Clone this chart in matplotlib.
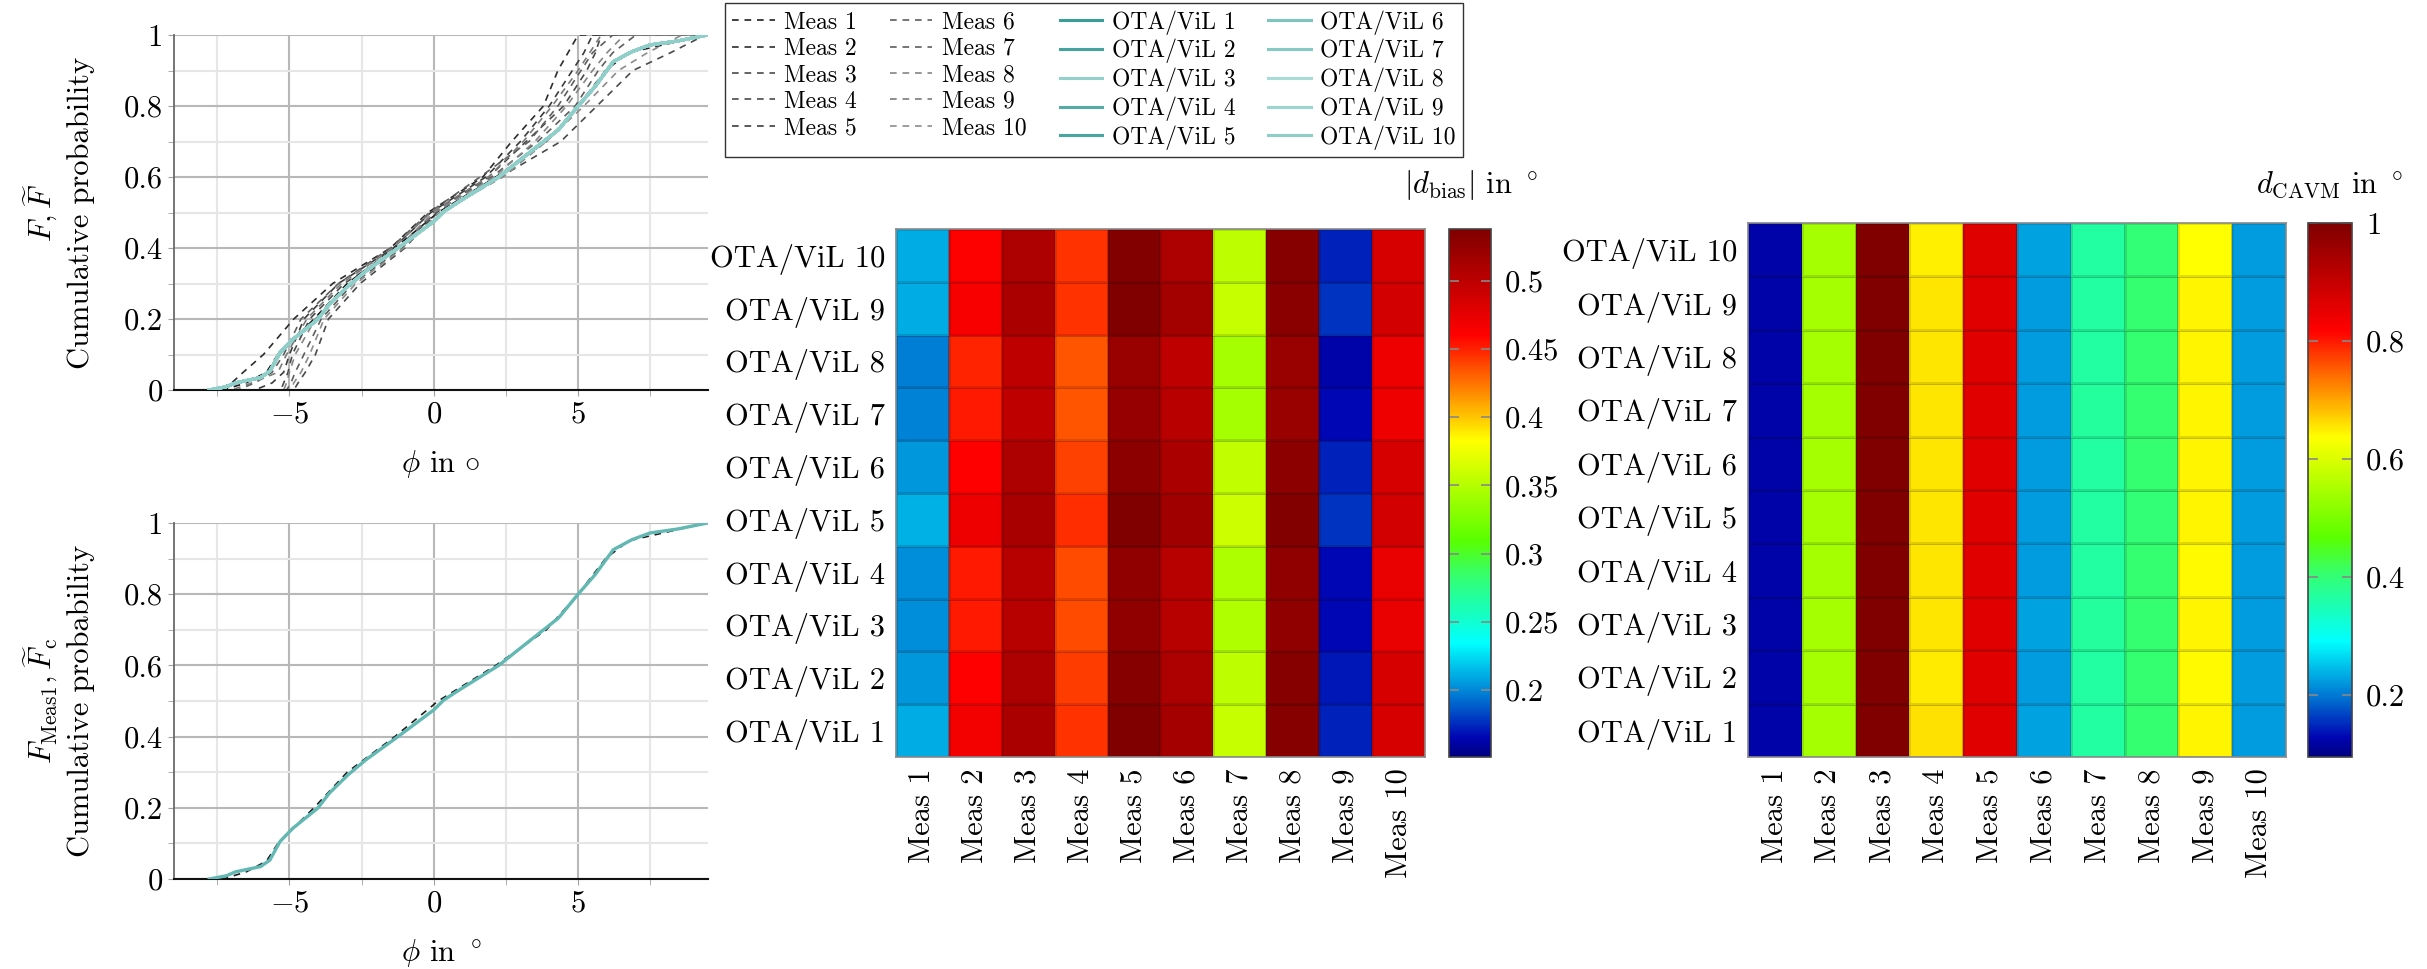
import numpy as np
import matplotlib
matplotlib.use("Agg")
import matplotlib.pyplot as plt
from matplotlib.colors import LinearSegmentedColormap, Normalize

plt.rcParams['font.family'] = 'serif'
plt.rcParams['font.serif'] = ['cmr10', 'DejaVu Serif']
plt.rcParams['mathtext.fontset'] = 'cm'
plt.rcParams['axes.formatter.use_mathtext'] = True
plt.rcParams['axes.unicode_minus'] = False

# --- CDF data -------------------------------------------------------------
# OTA/ViL empirical CDF (all ten runs lie on top of each other)
PHI_OTA = [-7.78, -7.19, -6.87, -6.0, -5.68, -5.33, -4.89, -4.02, -3.62, -2.98,
           -2.35, -1.24, 0.0, 0.35, 0.98, 2.25, 3.21, 4.32, 5.0, 5.59,
           6.22, 6.86, 7.49, 8.44, 9.48]
F_OTA = [0.0, 0.009, 0.02, 0.035, 0.053, 0.105, 0.142, 0.199, 0.241, 0.292,
         0.335, 0.40, 0.475, 0.503, 0.536, 0.60, 0.662, 0.733, 0.80, 0.855,
         0.925, 0.953, 0.972, 0.983, 1.0]

# measured CDFs, phi at fixed probability levels
F_LEVELS = [0, 0.02, 0.05, 0.1, 0.2, 0.3, 0.4, 0.5, 0.6, 0.7, 0.8, 0.9, 0.95, 1.0]
MEAS_PHI = [
    [-7.3, -6.5, -5.8, -5.4, -4.15, -3.0, -1.35, 0.15, 2.15, 3.9, 5.0, 5.95, 6.75, 9.45],
    [-7.5, -7.0, -6.6, -5.9, -4.85, -3.5, -1.5, -0.2, 1.7, 2.7, 3.8, 4.3, 4.65, 5.0],
    [-5.3, -5.2, -5.05, -4.9, -4.3, -3.1, -1.2, 0.0, 1.9, 3.2, 4.5, 5.3, 5.6, 5.8],
    [-4.85, -4.7, -4.45, -4.1, -3.65, -2.55, -1.0, 0.1, 2.3, 4.4, 5.65, 6.9, 8.2, 9.4],
    [-6.2, -5.6, -5.2, -5.0, -4.5, -3.3, -1.4, -0.1, 1.8, 3.0, 4.0, 4.8, 5.2, 5.5],
    [-5.1, -4.95, -4.8, -4.5, -3.9, -2.8, -1.1, 0.05, 2.0, 3.6, 4.9, 5.7, 6.2, 7.0],
    [-6.8, -6.2, -5.6, -5.2, -4.6, -3.3, -1.5, -0.15, 1.6, 3.3, 4.3, 5.1, 5.5, 6.2],
    [-5.2, -5.1, -5.0, -4.8, -4.1, -2.9, -1.25, 0.0, 2.1, 3.5, 4.6, 5.5, 6.0, 6.6],
    [-7.0, -6.3, -5.4, -5.1, -4.4, -3.2, -1.4, -0.1, 1.9, 3.1, 4.1, 5.0, 5.4, 5.8],
    [-4.95, -4.85, -4.6, -4.3, -3.8, -2.7, -1.05, 0.2, 2.4, 3.9, 5.2, 6.4, 7.4, 8.6],
]
MEAS_LABELS = ['Meas %d' % i for i in range(1, 11)]
OTA_LABELS = ['OTA/ViL %d' % i for i in range(1, 11)]
MEAS_COLORS = ['#1e1e1e', '#2c2c2c', '#4a4a4a', '#4a4a4a', '#3c3c3c',
               '#5e5e5e', '#5e5e5e', '#858585', '#7a7a7a', '#8c8c8c']
OTA_COLORS = ['#3a9f99', '#44a39d', '#93d0cb', '#55aca6', '#48a6a0',
              '#7cc5c0', '#86cac5', '#a9dcd8', '#9ad5d0', '#8fcfca']

# --- heatmap data (rows: OTA/ViL 1..10, cols: Meas 1..10) ------------------
D_BIAS = np.array([
    [.211, .467, .512, .445, .537, .514, .358, .533, .173, .484],
    [.205, .460, .510, .442, .533, .510, .355, .533, .170, .484],
    [.201, .453, .504, .437, .526, .504, .349, .526, .166, .473],
    [.201, .453, .504, .437, .526, .504, .347, .526, .166, .473],
    [.212, .471, .513, .447, .538, .517, .360, .536, .178, .487],
    [.205, .460, .510, .441, .530, .511, .356, .530, .173, .484],
    [.198, .452, .500, .435, .523, .502, .344, .522, .165, .471],
    [.197, .450, .499, .434, .522, .499, .343, .522, .163, .471],
    [.211, .465, .512, .445, .538, .516, .358, .531, .177, .487],
    [.210, .461, .510, .445, .535, .510, .355, .533, .173, .484],
])
D_CAVM = np.array([
    [0.120, 0.546, 1.000, 0.660, 0.862, 0.226, 0.367, 0.404, 0.644, 0.225],
    [0.121, 0.545, 0.998, 0.652, 0.861, 0.225, 0.366, 0.403, 0.640, 0.224],
    [0.120, 0.545, 0.999, 0.657, 0.862, 0.226, 0.368, 0.403, 0.643, 0.225],
    [0.120, 0.546, 0.999, 0.655, 0.862, 0.225, 0.367, 0.404, 0.642, 0.224],
    [0.121, 0.544, 0.998, 0.656, 0.861, 0.224, 0.366, 0.402, 0.643, 0.224],
    [0.120, 0.545, 0.999, 0.655, 0.862, 0.225, 0.367, 0.403, 0.643, 0.225],
    [0.120, 0.546, 0.999, 0.656, 0.862, 0.225, 0.368, 0.404, 0.644, 0.224],
    [0.121, 0.545, 0.998, 0.657, 0.861, 0.224, 0.367, 0.403, 0.643, 0.224],
    [0.120, 0.545, 0.999, 0.656, 0.862, 0.225, 0.367, 0.403, 0.643, 0.225],
    [0.120, 0.544, 1.000, 0.650, 0.863, 0.226, 0.366, 0.402, 0.638, 0.225],
])
BIAS_RANGE = (0.151, 0.538)
CAVM_RANGE = (0.095, 1.0)
BIAS_TICKS = [0.2, 0.25, 0.3, 0.35, 0.4, 0.45, 0.5]
CAVM_TICKS = [0.2, 0.4, 0.6, 0.8, 1.0]

jet_like = LinearSegmentedColormap.from_list('jet_like', [
    (0.0, (0.0, 0.0, 0.5)),
    (0.035, (0.0, 0.02, 0.7)),
    (0.11, (0.0, 0.45, 0.82)),
    (0.215, (0.0, 1.0, 1.0)),
    (0.34, (0.2, 1.0, 0.45)),
    (0.41, (0.35, 1.0, 0.0)),
    (0.60, (1.0, 1.0, 0.0)),
    (0.80, (1.0, 0.0, 0.0)),
    (1.0, (0.5, 0.0, 0.0)),
])

W, H = 2427, 969
fig = plt.figure(figsize=(W / 100, H / 100), dpi=100)


def box(l, t, r, b):
    return [l / W, 1 - b / H, (r - l) / W, (b - t) / H]


def style_cdf(ax):
    ax.set_xlim(-9, 9.5)
    ax.set_ylim(0, 1)
    ax.set_xticks([-5, 0, 5])
    ax.set_xticklabels(['$-5$', '$0$', '$5$'])
    ax.set_xticks([-7.5, -2.5, 2.5, 7.5], minor=True)
    ax.set_yticks([0, 0.2, 0.4, 0.6, 0.8, 1.0])
    ax.set_yticklabels(['0', '0.2', '0.4', '0.6', '0.8', '1'])
    ax.set_yticks([0.1, 0.3, 0.5, 0.7, 0.9], minor=True)
    ax.grid(which='major', color='#b8b8b8', lw=1.5)
    ax.grid(which='minor', color='#e6e6e6', lw=1.5)
    ax.set_axisbelow(True)
    for s in ('top', 'right'):
        ax.spines[s].set_visible(False)
    ax.spines['left'].set_color('#6a6a6a')
    ax.spines['left'].set_linewidth(1.3)
    ax.spines['bottom'].set_color('#111111')
    ax.spines['bottom'].set_linewidth(1.5)
    ax.tick_params(which='both', direction='out', length=4, color='#a0a0a0',
                   labelsize=22, pad=4)


phi_lo = min(min(PHI_OTA), min(min(p) for p in MEAS_PHI))
phi_hi = max(max(PHI_OTA), max(max(p) for p in MEAS_PHI))

# top: all measurements and all OTA/ViL runs
ax1 = fig.add_axes(box(174, 35, 708, 390))
handles = []
for phi, col, lab in zip(MEAS_PHI, MEAS_COLORS, MEAS_LABELS):
    x = np.r_[phi_lo, phi, phi_hi]
    y = np.r_[0, F_LEVELS, 1]
    h, = ax1.plot(x, y, ls=(0, (4, 3.5)), lw=1.2, color=col, label=lab, zorder=2)
    handles.append(h)
for col, lab in zip(OTA_COLORS, OTA_LABELS):
    h, = ax1.plot(PHI_OTA, F_OTA, lw=2.2, color=col, label=lab, zorder=3)
    handles.append(h)
style_cdf(ax1)
ax1.set_xlabel(r'$\phi$ in $\circ$', fontsize=22, labelpad=14)
ax1.set_ylabel('$F, \\widetilde{F}$\nCumulative probability', fontsize=22,
               labelpad=21, linespacing=1.3)

# bottom: Meas 1 against the combined OTA/ViL CDF
ax2 = fig.add_axes(box(174, 523, 708, 879))
ax2.plot(np.r_[phi_lo, MEAS_PHI[0]], np.r_[0, F_LEVELS], ls=(0, (4, 3.5)),
         lw=1.2, color=MEAS_COLORS[0], zorder=2)
ax2.plot(PHI_OTA, F_OTA, lw=2.4, color='#62b8b3', zorder=3)
style_cdf(ax2)
ax2.set_xlabel(r'$\phi$ in $^\circ$', fontsize=22, labelpad=14)
ax2.set_ylabel('$F_{\\mathrm{Meas1}}, \\widetilde{F}_{\\mathrm{c}}$\nCumulative probability',
               fontsize=22, labelpad=21, linespacing=1.3)

fig.legend(handles, MEAS_LABELS + OTA_LABELS, ncol=4, loc='upper left',
           bbox_to_anchor=(725 / W, 1 - 3 / H), borderaxespad=0, fontsize=17,
           frameon=True, fancybox=False, edgecolor='#333333', framealpha=1,
           handlelength=1.8, handletextpad=0.4, columnspacing=1.4,
           labelspacing=0.18, borderpad=0.3)


def heatmap(ax, cax, data, vrange, ticks, title, title_x):
    norm = Normalize(*vrange)
    edges = np.arange(0.5, 11.5, 1.0)
    mesh = ax.pcolormesh(edges, edges, data, cmap=jet_like, norm=norm,
                         edgecolors=(0, 0, 0, 0.12), linewidth=1.0)
    ax.set_xlim(0.5, 10.5)
    ax.set_ylim(0.5, 10.5)
    ax.set_xticks(range(1, 11))
    ax.set_xticklabels(MEAS_LABELS, rotation=90)
    ax.set_yticks(range(1, 11))
    ax.set_yticklabels(OTA_LABELS)
    ax.tick_params(length=0, labelsize=22, pad=8)
    for s in ax.spines.values():
        s.set_color('#8a8a8a')
        s.set_linewidth(1.2)
    cb = fig.colorbar(mesh, cax=cax)
    cb.set_ticks(ticks)
    cb.set_ticklabels(['%g' % t for t in ticks])
    cb.outline.set_edgecolor('#444444')
    cb.outline.set_linewidth(1.2)
    cax.tick_params(direction='in', left=True, right=True, length=7,
                    width=1.2, color='#888888', labelsize=22, pad=10)
    fig.text(title_x / W, 1 - 185 / H, title, fontsize=22, ha='center', va='center')


ax3 = fig.add_axes(box(896, 229, 1425, 757))
cax3 = fig.add_axes(box(1449, 229, 1491, 757))
heatmap(ax3, cax3, D_BIAS, BIAS_RANGE, BIAS_TICKS,
        r'$|d_{\mathrm{bias}}|$ in $^\circ$', 1471)

ax4 = fig.add_axes(box(1748, 223, 2286, 757))
cax4 = fig.add_axes(box(2308, 223, 2352, 757))
heatmap(ax4, cax4, D_CAVM, CAVM_RANGE, CAVM_TICKS,
        r'$d_{\mathrm{CAVM}}$ in $^\circ$', 2330)

fig.savefig('out.png', dpi=100)
